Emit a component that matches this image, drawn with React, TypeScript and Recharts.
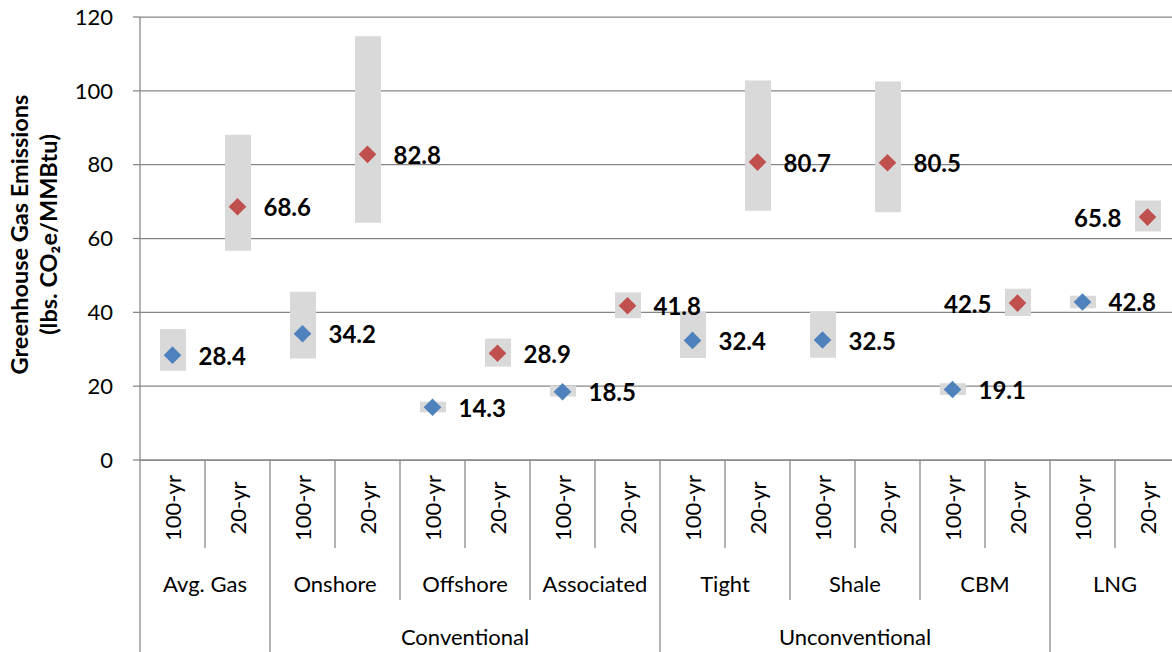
import React from "react";
import { ComposedChart, Bar, Line, XAxis, YAxis, CartesianGrid, LabelList } from "recharts";

//#region Data

const periods = ["100-yr", "20-yr"];
const gasTypes = ["Avg. Gas", "Onshore", "Offshore", "Associated", "Tight", "Shale", "CBM", "LNG"];
const groups = [
  { name: "", count: 1 },
  { name: "Conventional", count: 3 },
  { name: "Unconventional", count: 3 },
  { name: "", count: 1 },
];
const emissions100 = [28.4, 34.2, 14.3, 18.5, 32.4, 32.5, 19.1, 42.8];
const emissions20 = [68.6, 82.8, 28.9, 41.8, 80.7, 80.5, 42.5, 65.8];
// gray range bars, one per category (100-yr, 20-yr alternating)
const rangeLow = [24.2, 56.7, 27.5, 64.3, 12.9, 25.3, 17.2, 38.4, 27.6, 67.5, 27.7, 67.1, 17.6, 39.0, 41.1, 61.9];
const rangeHigh = [35.5, 88.1, 45.6, 114.8, 15.8, 32.9, 20.1, 45.4, 40.2, 102.8, 40.2, 102.5, 20.8, 46.4, 44.5, 70.3];
const yTicks = [0, 20, 40, 60, 80, 100, 120];

//#endregion

const data = gasTypes.flatMap((gas, g) =>
  periods.map((period, k) => {
    const i = g * 2 + k;
    return {
      key: `${gas}|${period}`,
      gas,
      period,
      range: [rangeLow[i], rangeHigh[i]],
      v100: k === 0 ? emissions100[g] : null,
      v20: k === 1 ? emissions20[g] : null,
    };
  })
);

// labels drawn on the left of their marker
const leftLabels = new Set(["CBM|20-yr", "LNG|20-yr"]);

// first gas index of each outer group
const groupStarts = groups.reduce<number[]>((acc, grp, n) => {
  acc.push(n === 0 ? 0 : acc[n - 1] + groups[n - 1].count);
  return acc;
}, []);

const FONT = "Lato, 'Open Sans', sans-serif";
const CHART_W = 1180;
const CHART_H = 652;
const Y_AXIS_W = 140;
const X_AXIS_H = 192;
const TOP = 17;
const BAND = (CHART_W - Y_AXIS_W) / data.length;
const LINE = "#868686";
const BLUE = "#4F81BD";
const RED = "#C0504D";

const Diamond = (color: string) => (props: any) => {
  const { cx, cy, value, index } = props;
  if (cx == null || cy == null || value == null) return <g key={`d-${index}`} />;
  const r = 8.8;
  return (
    <path
      key={`d-${index}`}
      d={`M${cx},${cy - r} L${cx + r},${cy} L${cx},${cy + r} L${cx - r},${cy} Z`}
      fill={color}
    />
  );
};

const ValueLabel = (props: any) => {
  const { x, y, value, index } = props;
  if (value == null || x == null || y == null) return null;
  const left = leftLabels.has(data[index]?.key);
  return (
    <text
      x={left ? x - 26 : x + 26}
      y={y}
      textAnchor={left ? "end" : "start"}
      dominantBaseline="central"
      fontFamily={FONT}
      fontWeight={700}
      fontSize={24}
      fill="#000"
    >
      {Number(value).toFixed(1)}
    </text>
  );
};

const AxisTick = (props: any) => {
  const { x, y, payload } = props;
  const i = payload.index;
  const row = data[i];
  if (!row) return null;
  const half = BAND / 2;
  const g = Math.floor(i / 2);
  let len = 140;
  if (i % 2 === 1) len = 88;
  else if (groupStarts.includes(g)) len = X_AXIS_H;

  const gi = groupStarts.indexOf(g);
  const grp = i % 2 === 0 && gi >= 0 ? groups[gi] : null;

  return (
    <g fontFamily={FONT} fill="#000">
      <line x1={x - half} y1={y} x2={x - half} y2={y + len} stroke={LINE} strokeWidth={1.25} />
      <text
        x={x}
        y={y + 48}
        transform={`rotate(-90, ${x}, ${y + 48})`}
        textAnchor="middle"
        dominantBaseline="central"
        fontSize={22}
      >
        {row.period}
      </text>
      {i % 2 === 0 && (
        <text x={x + half} y={y + 123} textAnchor="middle" dominantBaseline="central" fontSize={22}>
          {row.gas}
        </text>
      )}
      {grp && grp.name && (
        <text
          x={x - half + grp.count * BAND}
          y={y + 176}
          textAnchor="middle"
          dominantBaseline="central"
          fontSize={22}
        >
          {grp.name}
        </text>
      )}
    </g>
  );
};

const YTitle = (props: any) => {
  const cy = TOP + (CHART_H - X_AXIS_H - TOP) / 2 - 4;
  return (
    <g fontFamily={FONT} fontWeight={700} fontSize={23.5} fill="#000">
      <text transform={`translate(19, ${cy}) rotate(-90)`} textAnchor="middle" dominantBaseline="central">
        Greenhouse Gas Emissions
      </text>
      <text transform={`translate(48, ${cy}) rotate(-90)`} textAnchor="middle" dominantBaseline="central">
        (lbs. CO₂e/MMBtu)
      </text>
    </g>
  );
};

const App = () => {
  return (
    <div
      style={{
        position: "fixed",
        left: 0,
        top: 0,
        width: 1172,
        height: 652,
        overflow: "hidden",
        background: "#fff",
      }}
    >
      <ComposedChart
        width={CHART_W}
        height={CHART_H}
        data={data}
        margin={{ top: TOP, right: 0, bottom: 0, left: 0 }}
      >
        <CartesianGrid vertical={false} stroke={LINE} strokeWidth={1.25} />
        <XAxis
          dataKey="key"
          interval={0}
          height={X_AXIS_H}
          tickLine={false}
          tickSize={0}
          tickMargin={0}
          axisLine={{ stroke: LINE, strokeWidth: 1.25 }}
          tick={<AxisTick />}
        />
        <YAxis
          domain={[0, 120]}
          ticks={yTicks}
          width={Y_AXIS_W}
          tickSize={7}
          tickMargin={20}
          tickLine={{ stroke: LINE, strokeWidth: 1.25 }}
          axisLine={{ stroke: LINE, strokeWidth: 1.25 }}
          tick={{ fill: "#000", fontSize: 22, fontFamily: FONT }}
          label={<YTitle />}
        />
        <Bar dataKey="range" fill="#D9D9D9" barSize={26} isAnimationActive={false} />
        <Line
          dataKey="v100"
          stroke="none"
          dot={Diamond(BLUE)}
          activeDot={false}
          isAnimationActive={false}
        >
          <LabelList dataKey="v100" content={<ValueLabel />} />
        </Line>
        <Line
          dataKey="v20"
          stroke="none"
          dot={Diamond(RED)}
          activeDot={false}
          isAnimationActive={false}
        >
          <LabelList dataKey="v20" content={<ValueLabel />} />
        </Line>
      </ComposedChart>
    </div>
  );
};

export default App;
